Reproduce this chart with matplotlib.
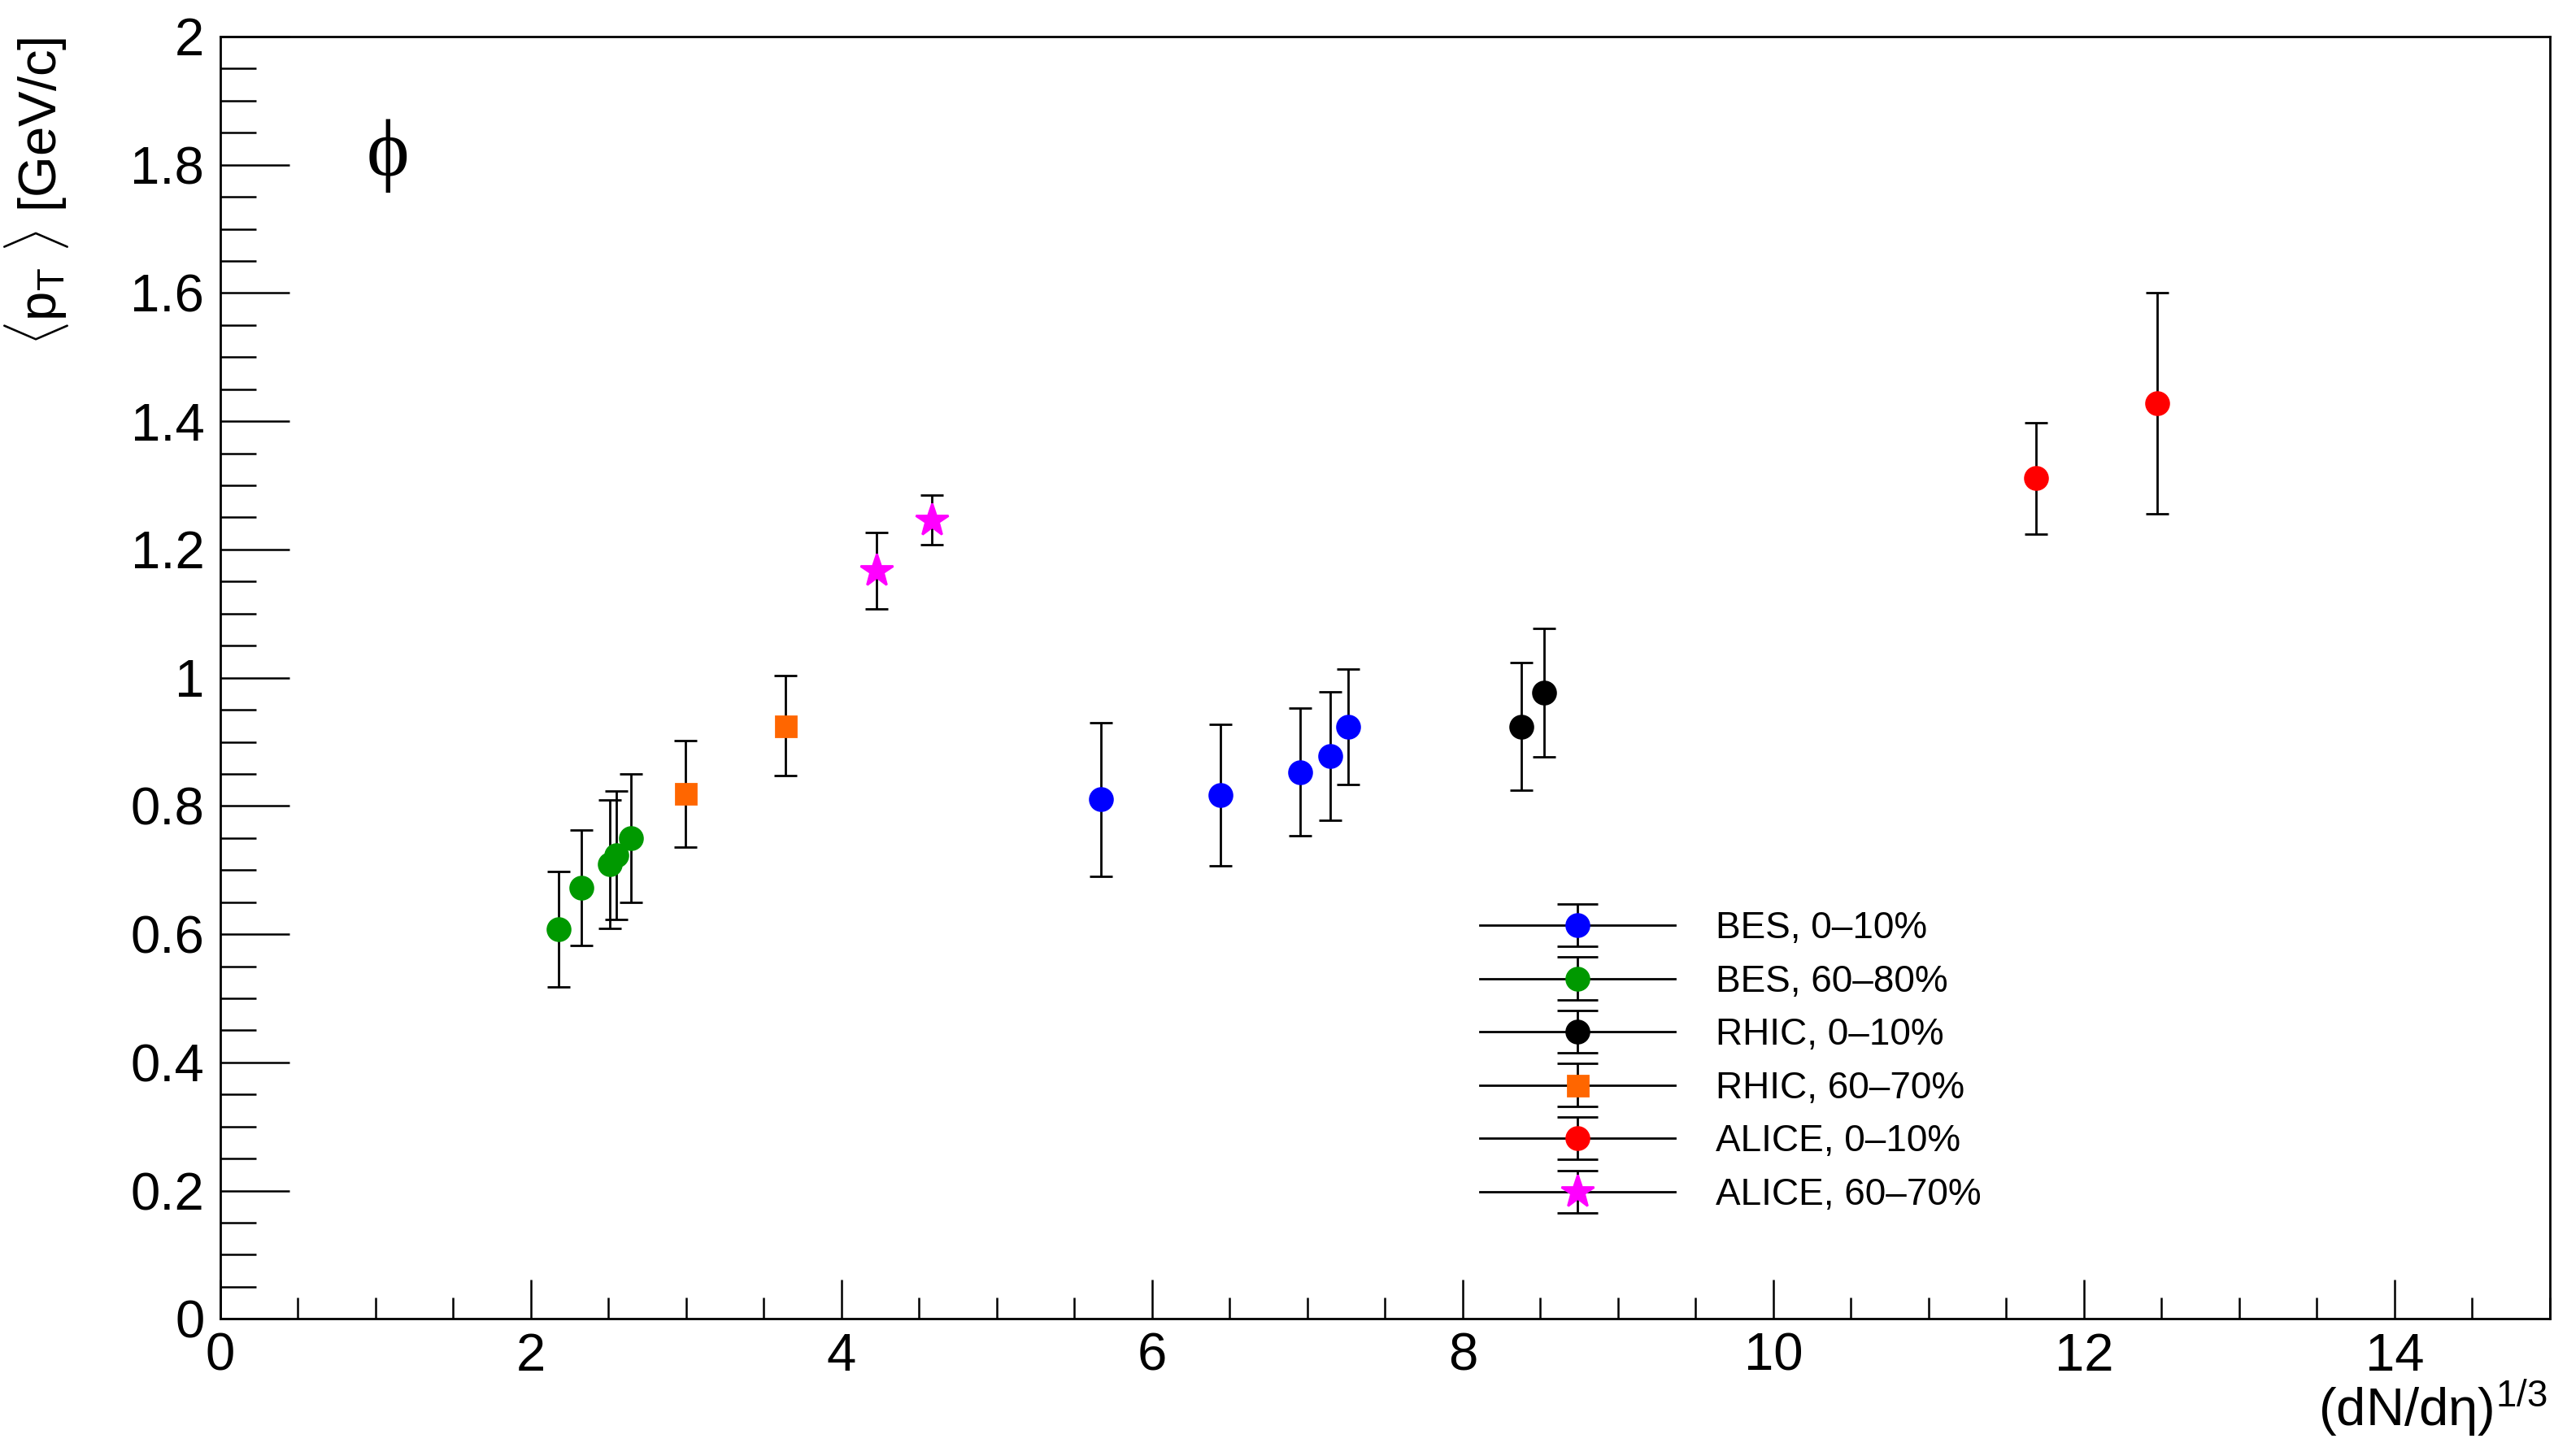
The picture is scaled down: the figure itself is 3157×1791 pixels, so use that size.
import matplotlib
matplotlib.use("Agg")
import matplotlib.pyplot as plt
from matplotlib.lines import Line2D
from matplotlib.legend_handler import HandlerErrorbar, HandlerTuple
from matplotlib.container import ErrorbarContainer
from matplotlib.ticker import MultipleLocator, FuncFormatter

plt.rcParams['font.family'] = ['Liberation Sans', 'DejaVu Sans']
plt.rcParams['mathtext.fontset'] = 'custom'
plt.rcParams['mathtext.rm'] = 'Liberation Sans'
plt.rcParams['mathtext.it'] = 'Liberation Sans:italic'
plt.rcParams['mathtext.default'] = 'rm'

# ---------------- data ----------------
bes_c_x = [5.67, 6.44, 6.955, 7.146, 7.264]
bes_c_y = [0.810, 0.817, 0.853, 0.878, 0.924]
bes_c_e = [0.120, 0.110, 0.100, 0.100, 0.090]

bes_p_x = [2.18, 2.327, 2.51, 2.553, 2.643]
bes_p_y = [0.608, 0.672, 0.709, 0.723, 0.750]
bes_p_e = [0.090, 0.090, 0.100, 0.100, 0.100]

rhic_c_x = [8.377, 8.524]
rhic_c_y = [0.924, 0.977]
rhic_c_e = [0.100, 0.100]

rhic_p_x = [2.995, 3.64]
rhic_p_y = [0.819, 0.925]
rhic_p_e = [0.083, 0.078]

alice_c_x = [11.69, 12.47]
alice_c_y = [1.311, 1.428]
alice_c_e = [0.087, 0.172]

alice_p_x = [4.226, 4.58]
alice_p_y = [1.167, 1.246]
alice_p_e = [0.060, 0.039]

labels = ["BES, 0\u201310%", "BES, 60\u201380%", "RHIC, 0\u201310%",
          "RHIC, 60\u201370%", "ALICE, 0\u201310%", "ALICE, 60\u201370%"]
colors = ["#0000ff", "#009900", "#000000", "#ff6600", "#ff0000", "#ff00ff"]
markers = ["o", "o", "o", "s", "o", "*"]
msizes = [10, 10, 10, 9, 10, 15]

series = [(bes_c_x, bes_c_y, bes_c_e), (bes_p_x, bes_p_y, bes_p_e),
          (rhic_c_x, rhic_c_y, rhic_c_e), (rhic_p_x, rhic_p_y, rhic_p_e),
          (alice_c_x, alice_c_y, alice_c_e), (alice_p_x, alice_p_y, alice_p_e)]

# ---------------- figure ----------------
W, H = 3157, 1791
fig = plt.figure(figsize=(W / 200, H / 200), dpi=200)
left, right, bottom, top = 270.7 / W, 3136 / W, 1 - 1622.3 / H, 1 - 45 / H
ax = fig.add_axes([left, bottom, right - left, top - bottom])

handles = []
for (x, y, e), c, m, ms, lab in zip(series, colors, markers, msizes, labels):
    eb = ax.errorbar(x, y, yerr=e, fmt=m, color=c, ms=ms, mec=c,
                     ecolor="black", elinewidth=1.0, capsize=5, capthick=1.0,
                     linestyle="none")
    hline = Line2D([], [], color="black", lw=1.0)
    handles.append((hline, eb))

ax.set_xlim(0, 15)
ax.set_ylim(0, 2)
ax.xaxis.set_major_locator(MultipleLocator(2))
ax.xaxis.set_minor_locator(MultipleLocator(0.5))
ax.yaxis.set_major_locator(MultipleLocator(0.2))
ax.yaxis.set_minor_locator(MultipleLocator(0.05))
fmt = FuncFormatter(lambda v, p: "%g" % round(v, 3))
ax.xaxis.set_major_formatter(fmt)
ax.yaxis.set_major_formatter(fmt)

ax.tick_params(axis="both", which="both", direction="in", width=0.9,
               top=False, right=False, labelsize=23.5, colors="black")
ax.tick_params(axis="y", which="major", length=30.6, pad=7)
ax.tick_params(axis="y", which="minor", length=15.8)
ax.tick_params(axis="x", which="major", length=17.3, pad=6)
ax.tick_params(axis="x", which="minor", length=9.4)
for s in ax.spines.values():
    s.set_linewidth(1.0)

# axis titles
fig.text(45 / W, 1 - 46 / H, r"$\langle$p$_{T}$ $\rangle$ [GeV/c]",
         rotation=90, ha="center", va="top", fontsize=23.5)
fig.text(3133 / W, 1 - 1732 / H, "(dN/d\u03b7)$^{1/3}$", ha="right",
         va="center", fontsize=23.5)

# particle label
ax.text(0.072, 0.907, "\u03d5", transform=ax.transAxes, ha="center",
        va="center", fontsize=36, family=["Liberation Serif", "DejaVu Serif"])


class CapHandler(HandlerErrorbar):
    def create_artists(self, legend, orig_handle, xdescent, ydescent, width,
                       height, fontsize, trans):
        arts = super().create_artists(legend, orig_handle, xdescent, ydescent,
                                      width, height, fontsize, trans)
        for a in arts:
            if isinstance(a, Line2D) and a.get_marker() == "_":
                a.set_markersize(18)
        return arts


leg = ax.legend(handles, labels, loc="upper left",
                bbox_to_anchor=(1820 / W, 1 - 1120 / H),
                bbox_transform=fig.transFigure, frameon=False,
                fontsize=16.5, handlelength=5.24, handletextpad=1.09,
                labelspacing=0.47, borderpad=0, borderaxespad=0,
                handler_map={tuple: HandlerTuple(ndivide=1, pad=0),
                             ErrorbarContainer: CapHandler(yerr_size=0.57, numpoints=1)})

fig.savefig("out.png", dpi=200, facecolor="white")
